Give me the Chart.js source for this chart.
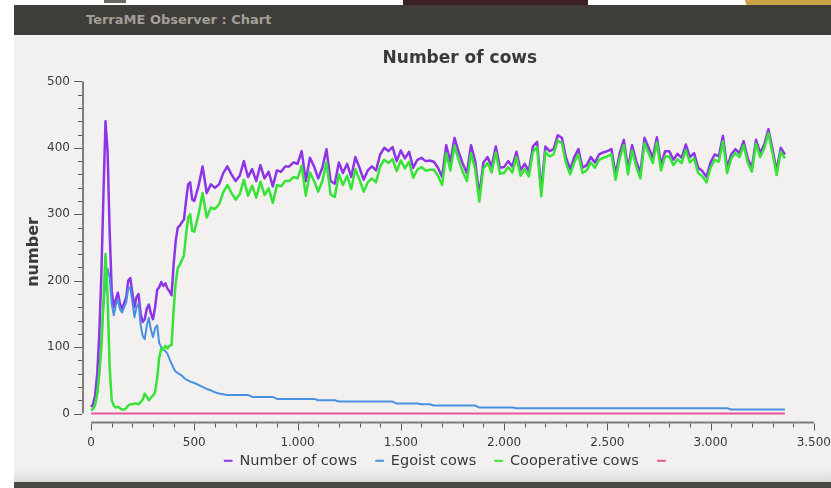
<!DOCTYPE html>
<html>
<head>
<meta charset="utf-8">
<title>TerraME Observer : Chart</title>
<script src="https://cdn.jsdelivr.net/npm/chart.js@4.4.1/dist/chart.umd.min.js"></script>
<style>
    html, body {
        margin: 0;
        padding: 0;
        width: 831px;
        height: 488px;
        overflow: hidden;
        background: #ffffff;
        font-family: 'DejaVu Sans', sans-serif;
    }
    .desk { position: absolute; top: 0; height: 5px; }
    #win {
        position: absolute;
        left: 14px;
        top: 5px;
        width: 830px;
        height: 483px;
        overflow: hidden;
    }
    #bar {
        height: 30px;
        background: #3e3d39;
        color: #a29f97;
        font: bold 13px 'DejaVu Sans', sans-serif;
        line-height: 30px;
        padding-left: 72px;
    }
    #content {
        position: absolute;
        left: 0;
        top: 30px;
        width: 830px;
        height: 447px;
        background: linear-gradient(to bottom, #f2f1f0 0px, #f2f1f0 432px, #dddcda 447px);
    }
    #foot {
        position: absolute;
        left: 0;
        top: 477px;
        width: 830px;
        height: 6px;
        background: #4a4945;
    }
    canvas { position: absolute; left: 0; top: 0; }
</style>
</head>
<body>
<div class="desk" style="left:104px; width:22px; height:3px; background:#6b6762;"></div>
<div class="desk" style="left:403px; width:185px; background:#3d2224;"></div>
<div class="desk" style="left:745px; width:86px; height:9px; background:#c9a545; border-bottom-left-radius:30px;"></div>
<div id="win">
    <div id="bar">TerraME Observer : Chart</div>
    <div id="content">
        <canvas id="chart" width="830" height="447"></canvas>
    </div>
    <div id="foot"></div>
</div>
<script>
// Time steps (x values) of the simulation
const steps = [
    0, 10, 20, 30, 40, 50, 60, 70, 80, 90,
    100, 110, 120, 130, 140, 150, 160, 170, 180, 190,
    200, 210, 220, 230, 240, 250, 260, 270, 280, 290,
    300, 310, 320, 330, 340, 350, 360, 370, 380, 390,
    400, 410, 420, 430, 440, 450, 460, 470, 480, 490,
    500,
    520, 540, 560, 580, 600, 620, 640, 660, 680, 700,
    720, 740, 760, 780, 800, 820, 840, 860, 880, 900,
    920, 940, 960, 980, 1000, 1020, 1040, 1060, 1080, 1100,
    1120, 1140, 1160, 1180, 1200, 1220, 1240, 1260, 1280, 1300,
    1320, 1340, 1360, 1380, 1400, 1420, 1440, 1460, 1480, 1500,
    1520, 1540, 1560, 1580, 1600, 1620, 1640, 1660, 1680, 1700,
    1720, 1740, 1760, 1780, 1800, 1820, 1840, 1860, 1880, 1900,
    1920, 1940, 1960, 1980, 2000, 2020, 2040, 2060, 2080, 2100,
    2120, 2140, 2160, 2180, 2200, 2220, 2240, 2260, 2280, 2300,
    2320, 2340, 2360, 2380, 2400, 2420, 2440, 2460, 2480, 2500,
    2520, 2540, 2560, 2580, 2600, 2620, 2640, 2660, 2680, 2700,
    2720, 2740, 2760, 2780, 2800, 2820, 2840, 2860, 2880, 2900,
    2920, 2940, 2960, 2980, 3000, 3020, 3040, 3060, 3080, 3100,
    3120, 3140, 3160, 3180, 3200, 3220, 3240, 3260, 3280, 3300,
    3320, 3340, 3360
];

// Number of cows (total)
const totalCows = [
    10, 14, 28, 60, 120, 210, 330, 440, 395, 275,
    185, 160, 172, 182, 165, 158, 166, 175, 200, 204,
    182, 160, 175, 180, 150, 138, 142, 158, 164, 150,
    142, 160, 186, 190, 198, 192, 196, 188, 184, 178,
    225, 260, 280, 283, 288, 292, 320, 345, 348, 322,
    320,
    342, 372, 332, 345, 340, 345, 362, 372, 360, 350,
    358, 380, 356, 368, 350, 374, 354, 364, 342, 366,
    364, 372, 372, 378, 376, 395, 350, 385, 372, 354,
    370, 398, 350, 346, 378, 362, 376, 356, 386, 370,
    352, 366, 372, 366, 390, 400, 395, 401, 380, 396,
    384, 394, 370, 382, 385, 380, 381, 379, 370, 356,
    404, 378, 415, 394, 376, 362, 404, 380, 328, 378,
    386, 372, 402, 370, 371, 380, 372, 394, 366, 376,
    365, 402, 409, 335, 402, 395, 398, 419, 415, 385,
    368, 386, 398, 370, 374, 386, 378, 390, 393, 395,
    398, 360, 392, 412, 368, 404, 380, 362, 415, 400,
    385, 416, 374, 395, 395, 382, 391, 385, 405, 386,
    392, 370, 365, 356, 378, 390, 387, 418, 370, 390,
    398, 392, 410, 384, 370, 412, 392, 405, 428, 398,
    365, 400, 390
];

// Egoist cows
const egoistCows = [
    5, 7, 14, 30, 60, 110, 160, 200, 218, 205,
    165, 148, 163, 172, 157, 152, 160, 167, 188, 190,
    168, 145, 160, 166, 133, 117, 112, 133, 144, 126,
    115, 128, 133, 106, 100, 96, 94, 90, 82, 75,
    68, 63, 61, 59, 57, 54, 51, 50, 48, 47,
    46,
    43, 40, 37, 35, 32, 30, 29, 28, 28, 28,
    28, 28, 28, 25, 25, 25, 25, 25, 25, 22,
    22, 22, 22, 22, 22, 22, 22, 22, 22, 20,
    20, 20, 20, 20, 18, 18, 18, 18, 18, 18,
    18, 18, 18, 18, 18, 18, 18, 18, 15, 15,
    15, 15, 15, 15, 14, 14, 14, 12, 12, 12,
    12, 12, 12, 12, 12, 12, 12, 12, 9, 9,
    9, 9, 9, 9, 9, 9, 9, 8, 8, 8,
    8, 8, 8, 8, 8, 8, 8, 8, 8, 8,
    8, 8, 8, 8, 8, 8, 8, 8, 8, 8,
    8, 8, 8, 8, 8, 8, 8, 8, 8, 8,
    8, 8, 8, 8, 8, 8, 8, 8, 8, 8,
    8, 8, 8, 8, 8, 8, 8, 8, 8, 6,
    6, 6, 6, 6, 6, 6, 6, 6, 6, 6,
    6, 6, 6
];

// Cooperative cows
const cooperativeCows = [
    5, 7, 14, 30, 60, 100, 170, 240, 177, 70,
    20, 12, 9, 10, 8, 6, 6, 8, 12, 14,
    14, 15, 15, 14, 17, 21, 30, 25, 20, 24,
    27, 32, 53, 84, 98, 96, 102, 98, 102, 103,
    157, 197, 219, 224, 231, 238, 269, 295, 300, 275,
    274,
    299, 332, 295, 310, 308, 315, 333, 344, 332, 322,
    330, 352, 328, 343, 325, 349, 329, 339, 317, 344,
    342, 350, 350, 356, 354, 373, 328, 363, 350, 334,
    350, 378, 330, 326, 360, 344, 358, 338, 368, 352,
    334, 348, 354, 348, 372, 382, 377, 383, 365, 381,
    369, 379, 355, 367, 371, 366, 367, 367, 358, 344,
    392, 366, 403, 382, 364, 350, 392, 368, 319, 369,
    377, 363, 393, 361, 362, 371, 363, 386, 358, 368,
    357, 394, 401, 327, 394, 387, 390, 411, 407, 377,
    360, 378, 390, 362, 366, 378, 370, 382, 385, 387,
    390, 352, 384, 404, 360, 396, 372, 354, 407, 392,
    377, 408, 366, 387, 387, 374, 383, 377, 397, 378,
    384, 362, 357, 348, 370, 382, 379, 410, 362, 384,
    392, 386, 404, 378, 364, 406, 386, 399, 422, 392,
    359, 394, 384
];

// Fourth series (no label), flat at zero
const otherSteps = [0, 3360];
const otherValues = [0, 0];

// Tick values of the axes
const xTicks = [0, 500, 1000, 1500, 2000, 2500, 3000, 3500];
const yTicks = [0, 100, 200, 300, 400, 500];

// Axis ranges and tick steps
const xMin = -39, xMax = 3500, xMajorStep = 500, xMinorStep = 100;
const yMin = -13.5, yMax = 500, yMajorStep = 100, yMinorStep = 20;

const fontFamily = "'DejaVu Sans', sans-serif";
const textColor = '#3a3a3a';

function toPoints(xs, ys) {
    return xs.map((x, i) => ({ x: x, y: ys[i] }));
}

// 1.000 style thousands separator
function formatStep(v) {
    if (v >= 1000) {
        return Math.floor(v / 1000) + '.' + String(v % 1000).padStart(3, '0');
    }
    return String(v);
}

// Detached axes with major/minor ticks (Qwt look)
const qwtAxes = {
    id: 'qwtAxes',
    afterDraw(chart) {
        const { ctx, chartArea } = chart;
        const sx = chart.scales.x;
        const sy = chart.scales.y;
        const left = chartArea.left;
        const bottom = chartArea.bottom;
        ctx.save();
        ctx.strokeStyle = '#7d7d7d';
        ctx.lineWidth = 2;
        ctx.beginPath();
        ctx.moveTo(left, sy.getPixelForValue(yMax));
        ctx.lineTo(left, sy.getPixelForValue(0));
        ctx.moveTo(sx.getPixelForValue(0), bottom);
        ctx.lineTo(sx.getPixelForValue(xMax), bottom);
        ctx.stroke();

        ctx.strokeStyle = '#5a5a5a';
        ctx.lineWidth = 1;
        ctx.beginPath();
        for (let v = 0; v <= yMax; v += yMinorStep) {
            const py = Math.round(sy.getPixelForValue(v)) + 0.5;
            const len = v % yMajorStep === 0 ? 8 : 4;
            ctx.moveTo(left - 1, py);
            ctx.lineTo(left - 1 - len, py);
        }
        for (let v = 0; v <= xMax; v += xMinorStep) {
            const px = Math.round(sx.getPixelForValue(v)) + 0.5;
            const len = v % xMajorStep === 0 ? 7 : 4;
            ctx.moveTo(px, bottom + 1);
            ctx.lineTo(px, bottom + 1 + len);
        }
        ctx.stroke();
        ctx.restore();
    }
};

Chart.defaults.font.family = fontFamily;

const ctx = document.getElementById('chart').getContext('2d');
const chart = new Chart(ctx, {
    type: 'line',
    data: {
        datasets: [
            {
                label: 'Number of cows',
                data: toPoints(steps, totalCows),
                borderColor: '#8c34e6',
                backgroundColor: '#8c34e6',
                borderWidth: 2.5,
                order: 2
            },
            {
                label: 'Egoist cows',
                data: toPoints(steps, egoistCows),
                borderColor: '#4a90e2',
                backgroundColor: '#4a90e2',
                order: 1
            },
            {
                label: 'Cooperative cows',
                data: toPoints(steps, cooperativeCows),
                borderColor: '#36e336',
                backgroundColor: '#36e336',
                borderWidth: 2.5,
                order: 0
            },
            {
                label: '',
                data: toPoints(otherSteps, otherValues),
                borderColor: '#e8559d',
                backgroundColor: '#e8559d',
                order: 3
            }
        ]
    },
    options: {
        responsive: false,
        animation: false,
        datasets: {
            line: {
                borderWidth: 2,
                pointRadius: 0,
                tension: 0,
                borderJoinStyle: 'round'
            }
        },
        layout: {
            padding: { left: 0, right: 29, top: 0, bottom: 4 }
        },
        plugins: {
            title: {
                display: true,
                // leading space nudges the centred title right like the Qwt one
                text: '\u2003 Number of cows',
                color: textColor,
                fullSize: false,
                font: { size: 17, weight: 'bold' },
                padding: { top: 13, bottom: 13 }
            },
            legend: {
                position: 'bottom',
                fullSize: false,
                labels: {
                    color: textColor,
                    font: { size: 14.5 },
                    boxWidth: 8,
                    boxHeight: 1,
                    padding: 4,
                    sort: (a, b) => a.datasetIndex - b.datasetIndex,
                    generateLabels(chart) {
                        const items = Chart.defaults.plugins.legend.labels.generateLabels(chart);
                        items.forEach((it, i) => {
                            it.lineWidth = 1;
                            // wider gap after every entry but the last
                            if (i < items.length - 1) {
                                it.text = it.text + '\u2003';
                            }
                        });
                        return items;
                    }
                }
            },
            tooltip: { enabled: false }
        },
        scales: {
            x: {
                type: 'linear',
                min: xMin,
                max: xMax,
                border: { display: false },
                grid: { display: false, drawTicks: false },
                afterBuildTicks: scale => {
                    scale.ticks = xTicks.map(v => ({ value: v }));
                },
                ticks: {
                    autoSkip: false,
                    maxRotation: 0,
                    padding: 13,
                    color: textColor,
                    font: { size: 12 },
                    callback: v => formatStep(v)
                },
                afterFit: scale => { scale.height = 27; }
            },
            y: {
                min: yMin,
                max: yMax,
                border: { display: false },
                grid: { display: false, drawTicks: false },
                afterBuildTicks: scale => {
                    scale.ticks = yTicks.map(v => ({ value: v }));
                },
                ticks: {
                    autoSkip: false,
                    padding: 13,
                    color: textColor,
                    font: { size: 12 }
                },
                title: {
                    display: true,
                    text: 'number',
                    color: textColor,
                    font: { size: 16, weight: 'bold' },
                    padding: { top: 10, bottom: 0 }
                },
                afterFit: scale => { scale.width = 69; }
            }
        }
    },
    plugins: [qwtAxes]
});
</script>
</body>
</html>
